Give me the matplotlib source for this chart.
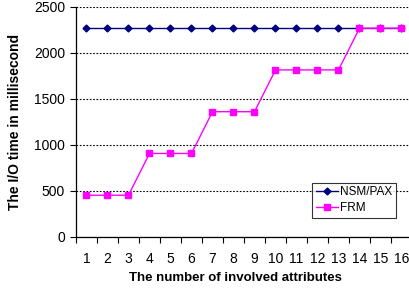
import matplotlib
matplotlib.use("Agg")
import matplotlib.pyplot as plt
from matplotlib.ticker import FixedLocator

plt.rcParams['font.family'] = ['Liberation Sans', 'DejaVu Sans']

attributes = list(range(1, 17))
nsm_pax = [2270] * 16
frm = [454, 454, 454, 908, 908, 908, 1362, 1362, 1362, 1816, 1816, 1816, 1816, 2270, 2270, 2270]
yticks = [0, 500, 1000, 1500, 2000, 2500]

fig = plt.figure(figsize=(4.1, 2.95), dpi=100)
ax = fig.add_axes([76/410, 1 - 237/295, 336/410, 230/295])

ax.plot(attributes, nsm_pax, color='#000080', lw=1.0, marker='D', markersize=3.5,
        markerfacecolor='#000080', markeredgecolor='#000080', label='NSM/PAX', zorder=3)
ax.plot(attributes, frm, color='#FF00FF', lw=1.0, marker='s', markersize=4,
        markerfacecolor='#FF00FF', markeredgecolor='#FF00FF', label='FRM', zorder=3)

ax.set_xlim(0.5, 16.5)
ax.set_ylim(0, 2500)
ax.set_yticks(yticks)
ax.yaxis.grid(True, color='black', linestyle=(0, (1.5, 1.5)), linewidth=0.8)
ax.set_axisbelow(True)

ax.set_xticks(attributes)
ax.set_xticklabels([str(a) for a in attributes])
ax.xaxis.set_minor_locator(FixedLocator([a + 0.5 for a in range(0, 17)]))
ax.tick_params(axis='x', which='major', length=0, pad=11, labelsize=10)
ax.tick_params(axis='x', which='minor', length=4, width=0.8, direction='out')
ax.tick_params(axis='y', length=4, width=0.8, direction='out', labelsize=10, pad=4)

for s in ['top', 'right']:
    ax.spines[s].set_visible(False)
for s in ['left', 'bottom']:
    ax.spines[s].set_linewidth(0.9)
    ax.spines[s].set_color('black')

ax.set_xlabel('The number of involved attributes', fontsize=9.5, fontweight='bold')
ax.xaxis.set_label_coords((235.5 - 76) / 336, -(278 - 237) / 230)
ax.set_ylabel('The I/O time in millisecond', fontsize=10, fontweight='bold')
ax.yaxis.set_label_coords(-(76 - 15) / 336, (237 - 122) / 230)
ax.xaxis.label.set_va('center')
ax.yaxis.label.set_va('center')

leg = ax.legend(loc='lower left', bbox_to_anchor=((312-76)/336, (237-218)/230, 84/336, 36/230),
                mode='expand', fontsize=8.5, frameon=True, fancybox=False, borderaxespad=0,
                handlelength=1.9, handletextpad=0.2, borderpad=0.3, labelspacing=0.35)
leg.get_frame().set_edgecolor('black')
leg.get_frame().set_linewidth(0.8)

fig.savefig('out.png', dpi=100)
